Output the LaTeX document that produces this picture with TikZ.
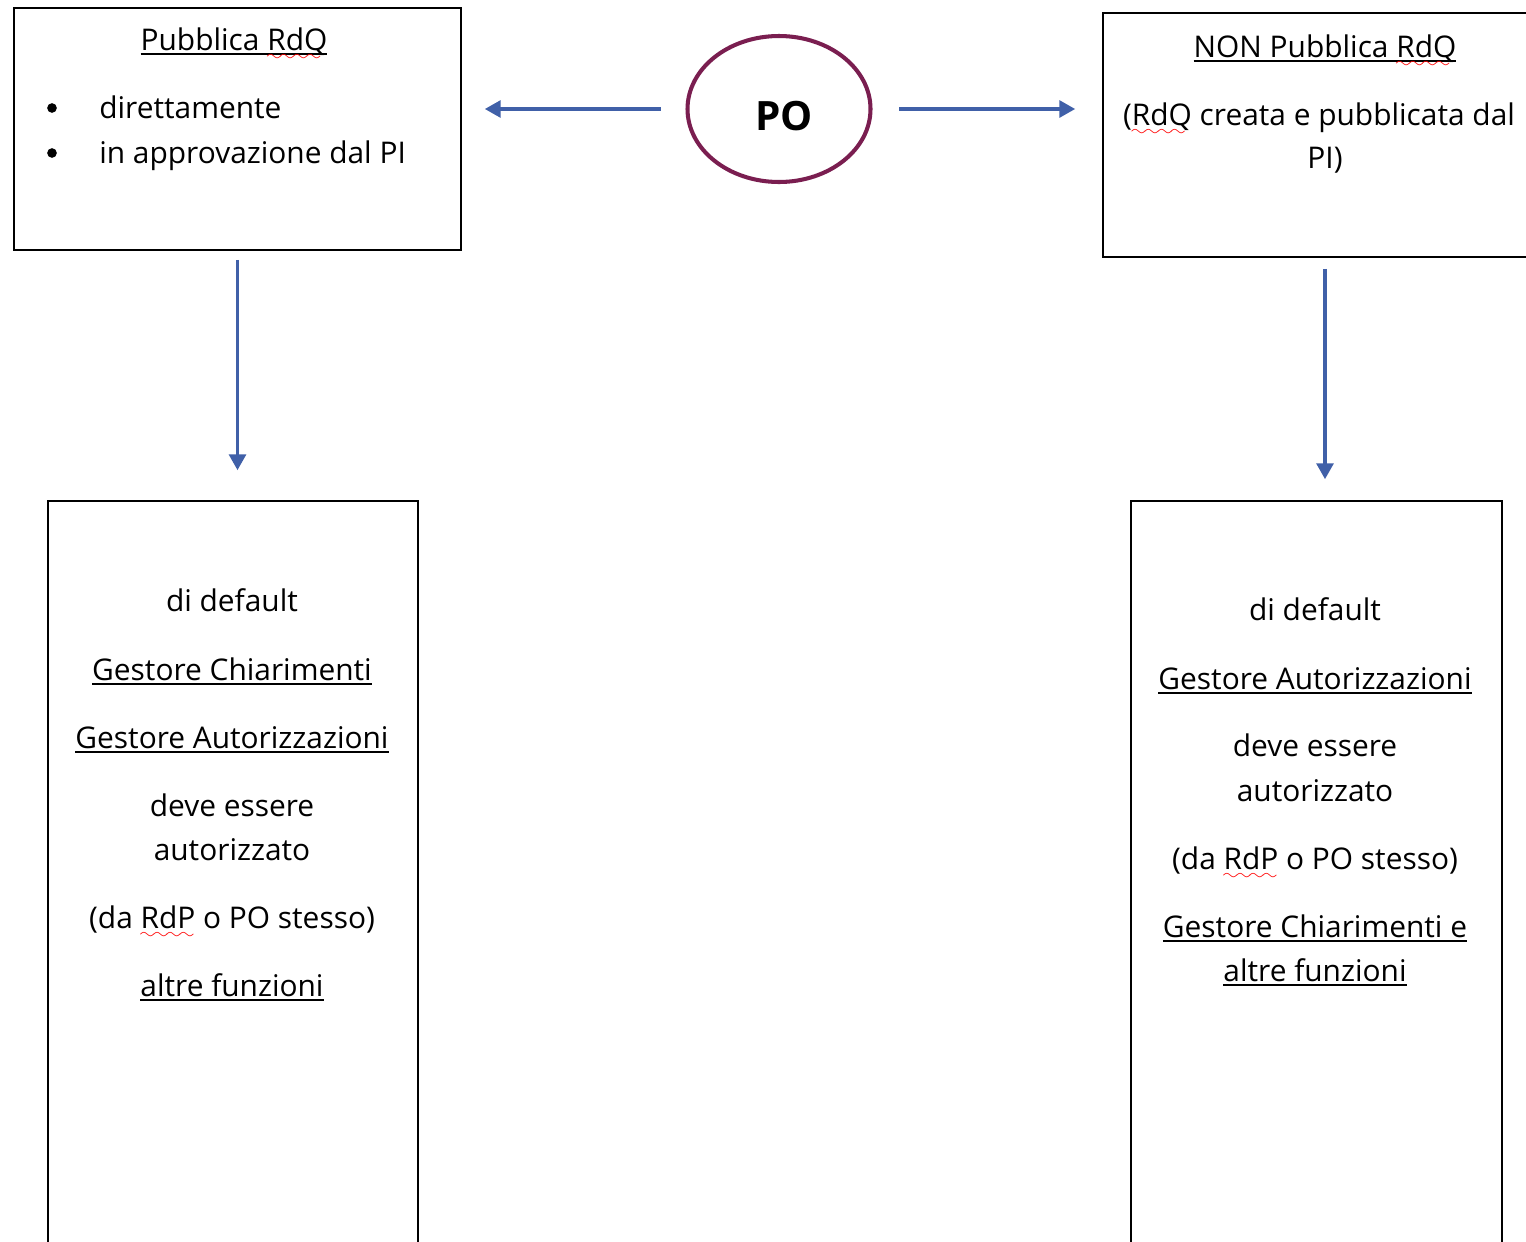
\documentclass[tikz,border=0pt]{standalone}
\usepackage{fontspec}
\setmainfont{Open Sans}
\usetikzlibrary{positioning, arrows.meta, shapes.geometric}

\definecolor{poRed}{RGB}{122,30,80}
\definecolor{arrBlue}{RGB}{64,96,168}

% underline and red spell-check wave
\font\wavefnt=lasy6 at 9pt
\newsavebox{\ulnbox}
\newsavebox{\wvybox}
\newcommand{\uln}[1]{\sbox{\ulnbox}{#1}\rlap{\lower2.7pt\hbox{\vrule width\wd\ulnbox height0.8pt depth0pt}}\usebox{\ulnbox}}
\newcommand{\wvy}[1]{\sbox{\wvybox}{#1}\rlap{\lower6pt\hbox to\wd\wvybox{\color{red}\leaders\hbox{\wavefnt\char58}\hfill}}\usebox{\wvybox}}

\begin{document}
\begin{tikzpicture}
	\tikzset{
		box/.style={draw, line width=0.9pt, rectangle, inner sep=0pt},
		txt/.style={inner sep=0pt, anchor=base, font=\fontsize{17}{25}\selectfont},
		dotmark/.style={circle, fill=black, inner sep=0pt, minimum size=5.5pt},
		link/.style={arrBlue, line width=2pt, -{Triangle[length=9pt, width=9.5pt]}}
	}
	\useasboundingbox[fill=white] (0,0) rectangle (30.52,-24.82);

	% boxes and PO
	\node[box, minimum width=8.94cm, minimum height=4.84cm] (pub) at (4.75,-2.58) {};
	\node[box, minimum width=8.88cm, minimum height=4.88cm] (nonpub) at (26.5,-2.70) {};
	\node[ellipse, draw=poRed, line width=2.3pt, minimum width=3.66cm, minimum height=2.92cm,
		font=\fontsize{23}{26}\selectfont\bfseries] (po) at (15.58,-2.18) {\hspace{0.2cm}\smash{\raisebox{-0.42cm}{PO}}};
	\node[box, minimum width=7.40cm, minimum height=15.48cm] (rolesL) at (4.66,-17.76) {};
	\node[box, minimum width=7.42cm, minimum height=15.48cm] (rolesR) at (26.33,-17.76) {};

	% top left
	\node[txt] (pubT) at (4.68,-1.00) {\uln{Pubblica \wvy{RdQ}}};
	\foreach \y/\t [count=\i] in {2.36/direttamente, 3.26/in approvazione dal PI} {
		\node[dotmark] (dot\i) at (1.04,-\y+0.2) {};
		\node[txt, anchor=base west] (item\i) at (1.98,-\y) {\t};
	}

	% top right
	\node[txt] (nonpubT) at (26.5,-1.14) {\uln{NON Pubblica \wvy{RdQ}}};
	\node[txt] (nonpubA) at (26.38,-2.50) {(\wvy{RdQ} creata e pubblicata dal};
	\node[txt] (nonpubB) at (26.5,-3.36) {PI)};

	% bottom boxes
	\foreach \y/\t [count=\i] in {12.22/di default, 13.60/\uln{Gestore Chiarimenti},
		14.96/\uln{Gestore Autorizzazioni}, 16.32/deve essere, 17.20/autorizzato,
		18.56/(da \wvy{RdP} o PO stesso), 19.92/\uln{altre funzioni}} {
		\node[txt] (tL\i) at (4.64,-\y) {\t};
	}
	\foreach \y/\t [count=\i] in {12.40/di default, 13.78/\uln{Gestore Autorizzazioni},
		15.12/deve essere, 16.02/autorizzato, 17.38/(da \wvy{RdP} o PO stesso),
		18.74/\uln{Gestore Chiarimenti e}, 19.62/\uln{altre funzioni}} {
		\node[txt] (tR\i) at (26.3,-\y) {\t};
	}

	% arrows
	\draw[link, shorten <=0.49cm, shorten >=0.46cm] (po.west) -- (pub.east |- po.west);
	\draw[link, shorten <=0.53cm, shorten >=0.54cm] (po.east) -- (nonpub.west |- po.east);
	\draw[link, shorten <=0.18cm, shorten >=0.6cm] (pub.south) -- (pub.south |- rolesL.north);
	\draw[link, shorten <=0.22cm, shorten >=0.42cm] (nonpub.south) -- (nonpub.south |- rolesR.north);
\end{tikzpicture}
\end{document}
